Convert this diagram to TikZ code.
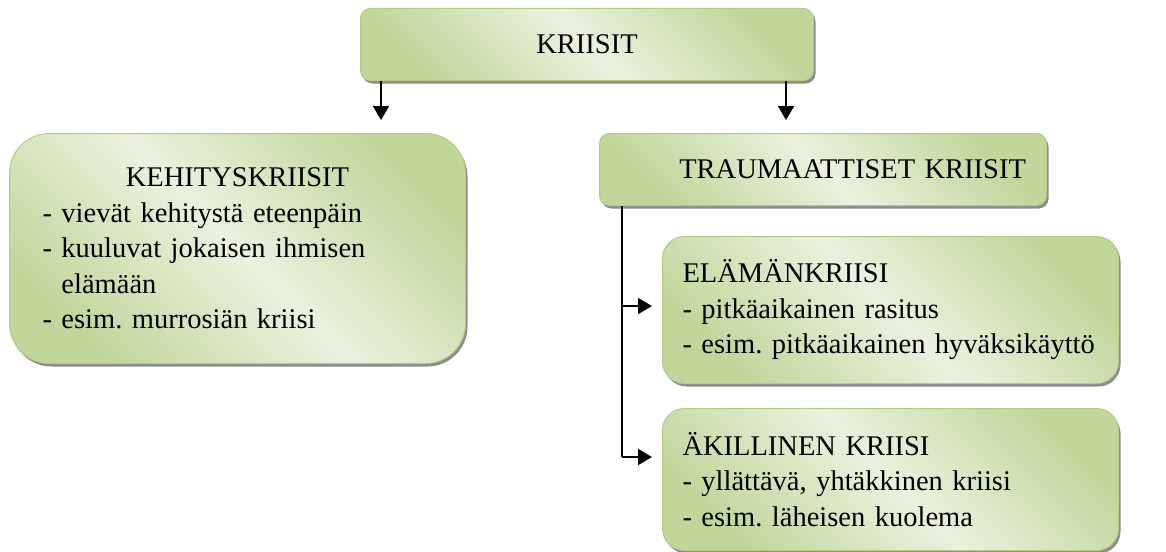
\documentclass[tikz,border=0pt]{standalone}
\usepackage{fontspec}
\setmainfont{Liberation Serif}
\usepackage{xcolor}
\usetikzlibrary{arrows.meta,positioning,calc,shadows}
\definecolor{gdark}{HTML}{C2D69B}
\definecolor{glight}{HTML}{EBF1DE}
\definecolor{gline}{HTML}{B3CB85}
\frenchspacing

\begin{document}
\begin{tikzpicture}[x=1pt,y=-1pt,
  every node/.style={font=\fontsize{28.5}{35.5}\selectfont},
  box/.style={draw=gline,line width=1pt,left color=gdark,right color=gdark,
    middle color=glight,shading angle=135,anchor=north west,inner sep=0pt,
    drop shadow={shadow xshift=2pt,shadow yshift=-3pt,fill=black!45,opacity=1}},
  arr/.style={-{Triangle[length=14pt,width=16pt]},line width=1.8pt}]
\useasboundingbox (0,0) rectangle (1166,551);
\node[box,rounded corners=10pt,minimum width=453pt,minimum height=72pt] (krii) at (360,8) {KRIISIT};
\node[box,rounded corners=40pt,minimum width=456pt,minimum height=230pt,
  text width=390pt,align=left] (keh) at (9,133)
  {\makebox[390pt]{KEHITYSKRIISIT}\\
   - vievät kehitystä eteenpäin\\
   - kuuluvat jokaisen ihmisen\\
   \phantom{- }elämään\\
   - esim. murrosiän kriisi};
\node[box,rounded corners=10pt,minimum width=447pt,minimum height=72pt,
  text width=406pt,align=right] (trau) at (599,133) {TRAUMAATTISET KRIISIT};
\node[box,rounded corners=22pt,minimum width=456pt,minimum height=147pt,
  text width=416pt,align=left] (elam) at (662,236)
  {ELÄMÄNKRIISI\\
   - pitkäaikainen rasitus\\
   - esim. pitkäaikainen hyväksikäyttö};
\node[box,rounded corners=22pt,minimum width=456pt,minimum height=142pt,
  text width=416pt,align=left] (akil) at (662,408)
  {ÄKILLINEN KRIISI\\
   - yllättävä, yhtäkkinen kriisi\\
   - esim. läheisen kuolema};
% arrows
\coordinate (kehtip) at (381,120);
\coordinate (trautip) at (786,120);
\draw[arr] (kehtip |- krii.south) -- (kehtip);
\draw[arr] (trautip |- krii.south) -- (trautip);
\coordinate (bus) at (622,0);
\coordinate (elamtip) at (652,306);
\coordinate (akiltip) at (652,457);
\draw[line width=1.3pt] (bus |- trau.south) -- (bus |- akiltip);
\draw[arr] (bus |- elamtip) -- (elamtip);
\draw[arr] (bus |- akiltip) -- (akiltip);
\end{tikzpicture}
\end{document}
